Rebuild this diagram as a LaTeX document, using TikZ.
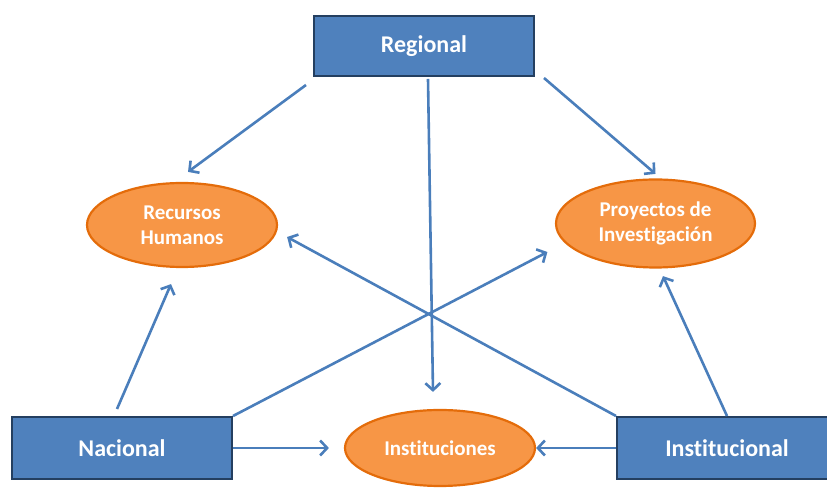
\documentclass[tikz,border=0pt]{standalone}
\usepackage{fontspec}
\setmainfont{Carlito}[Ligatures=NoCommon]
\usepackage{tikz}
\usetikzlibrary{shapes,arrows.meta}
\definecolor{boxblue}{HTML}{4F81BD}
\definecolor{boxline}{HTML}{243F60}
\definecolor{ovalfill}{HTML}{F79646}
\definecolor{ovalline}{HTML}{E46C0A}
\definecolor{linkblue}{HTML}{4A7EBB}

\begin{document}
\begin{tikzpicture}[x=1pt, y=1pt,
    level/.style={draw=boxline, fill=boxblue, line width=2pt, minimum width=220pt,
        minimum height=60pt, text=white, font=\fontsize{24}{29}\selectfont\bfseries},
    area/.style={ellipse, draw=ovalline, fill=ovalfill, line width=2.2pt, inner sep=0pt,
        text=white, align=center, font=\fontsize{21}{25}\selectfont\bfseries},
    link/.style={draw=linkblue, line width=2.6pt, -{Straight Barb[length=7pt,width=15pt]}}]
        \useasboundingbox (0,0) rectangle (827,489);
        \clip (0,0) rectangle (827,489);
        % levels
        \node[level] (reg) at (424,443) {Regional};
        \node[level, minimum height=62pt] (nac) at (122,41) {Nacional};
        \node[level, minimum height=62pt] (ins) at (727,41) {Institucional};
        % areas
        \node[area, minimum width=190pt, minimum height=84pt] (rh) at (182,264) {Recursos\\Humanos};
        \node[area, minimum width=199pt, minimum height=88pt] (pi) at (655.5,265.5) {Proyectos de\\Investigación};
        \node[area, minimum width=190pt, minimum height=76pt] (inst) at (440,41) {Instituciones};
        % from Regional
        \draw[link] ([xshift=-7pt,yshift=-8pt]reg.south west) -- ([xshift=6pt,yshift=10pt]rh.north);
        \draw[link] ([xshift=9pt,yshift=-1pt]reg.south east) -- ([yshift=4.5pt]pi.north);
        \draw[link] ([xshift=4pt,yshift=-2pt]reg.south) -- ([xshift=-7pt,yshift=17pt]inst.north);
        % from Nacional
        \draw[link] ([xshift=-5pt,yshift=7pt]nac.north) -- ([xshift=-11pt,yshift=-16pt]rh.south);
        \draw[link] (nac.north east) -- ([xshift=-7.5pt,yshift=-28.5pt]pi.west);
        \draw[link] (nac.east) -- ([xshift=-15pt]inst.west);
        % from Institucional
        \draw[link] (ins.north west) -- ([xshift=9pt,yshift=-12pt]rh.east);
        \draw[link] (ins.west) -- (inst.east);
        \draw[link] (ins.north) -- ([xshift=7.5pt,yshift=-7.5pt]pi.south);
    \end{tikzpicture}
\end{document}
